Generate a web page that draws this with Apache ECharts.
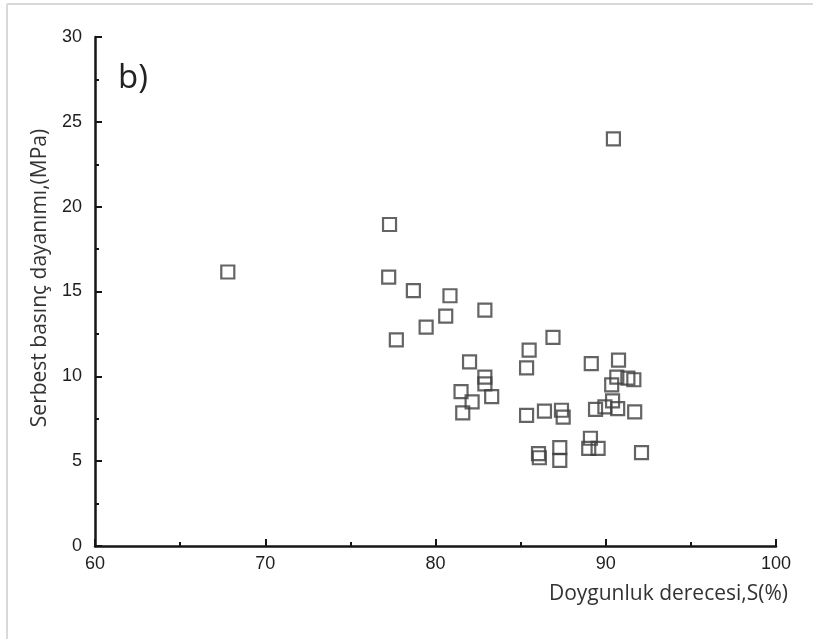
<!DOCTYPE html>
<html>
<head>
<meta charset="utf-8">
<script src="https://cdn.jsdelivr.net/npm/echarts@6/dist/echarts.min.js"></script>
<style>
  html, body { margin: 0; padding: 0; background: #fff; }
  #chart { width: 813px; height: 639px; }
</style>
</head>
<body>
<div id="chart"></div>
<script>
// Saturation degree S (%) for each sample
const saturation = [
  67.8, 77.3, 77.25, 77.7, 78.7, 79.45, 80.6, 80.85, 82.9, 82.0,
  82.9, 82.9, 81.5, 82.15, 83.3, 81.6, 86.9, 85.5, 85.35, 85.35,
  86.4, 87.4, 87.5, 86.05, 86.1, 87.3, 87.3, 89.15, 90.75, 90.65,
  91.3, 91.65, 90.35, 90.4, 89.4, 89.95, 90.7, 91.7, 89.1, 89.0,
  89.55, 92.1, 90.45
];
// Unconfined compressive strength (MPa) for each sample
const strength = [
  16.15, 18.95, 15.85, 12.15, 15.05, 12.9, 13.55, 14.75, 13.9, 10.85,
  9.95, 9.55, 9.1, 8.5, 8.8, 7.85, 12.3, 11.55, 10.5, 7.7,
  7.95, 8.0, 7.6, 5.45, 5.2, 5.8, 5.05, 10.75, 10.95, 9.95,
  9.9, 9.8, 9.5, 8.55, 8.05, 8.2, 8.1, 7.9, 6.35, 5.75,
  5.75, 5.5, 24.0
];
const xTicks = { min: 60, max: 100, step: 10 };
const yTicks = { min: 0, max: 30, step: 5 };
const xTitle = 'Doygunluk derecesi,S(%)';
const yTitle = 'Serbest basınç dayanımı,(MPa)';

const points = saturation.map((s, i) => [s, strength[i]]);

const axisColor = '#161616';
const labelStyle = { color: '#1e1e1e', fontFamily: 'Liberation Sans, Arial, sans-serif', fontSize: 18 };
const titleFont = '21px "Open Sans", "Noto Sans", sans-serif';

const chart = echarts.init(document.getElementById('chart'), null, { renderer: 'canvas' });
chart.setOption({
  backgroundColor: '#ffffff',
  animation: false,
  grid: { left: 95, right: 37, top: 37, bottom: 93 },
  xAxis: {
    type: 'value',
    min: xTicks.min, max: xTicks.max, interval: xTicks.step,
    axisLine: { show: true, onZero: false, lineStyle: { color: axisColor, width: 2.5 } },
    axisTick: { show: true, inside: true, length: 7, lineStyle: { color: axisColor, width: 2 } },
    minorTick: { show: true, splitNumber: 2, length: 4, lineStyle: { color: axisColor, width: 2 } },
    splitLine: { show: false },
    axisLabel: Object.assign({ margin: 9 }, labelStyle)
  },
  yAxis: {
    type: 'value',
    min: yTicks.min, max: yTicks.max, interval: yTicks.step,
    axisLine: { show: true, onZero: false, lineStyle: { color: axisColor, width: 2.5 } },
    axisTick: { show: true, inside: true, length: 7, lineStyle: { color: axisColor, width: 2 } },
    minorTick: { show: true, splitNumber: 2, length: 4, lineStyle: { color: axisColor, width: 2 } },
    splitLine: { show: false },
    axisLabel: Object.assign({ margin: 13 }, labelStyle)
  },
  series: [{
    type: 'scatter',
    data: points,
    symbol: 'rect',
    symbolSize: 13,
    itemStyle: { color: 'rgba(255,255,255,0)', borderColor: '#3d3d3d', borderWidth: 2.2 }
  }],
  graphic: [
    // thin frame along the top and left edges
    { type: 'line', silent: true, shape: { x1: 7, y1: 4, x2: 813, y2: 4 }, style: { stroke: '#d9d9d9', lineWidth: 2 } },
    { type: 'line', silent: true, shape: { x1: 7, y1: 4, x2: 7, y2: 639 }, style: { stroke: '#d9d9d9', lineWidth: 2 } },
    {
      type: 'text', left: 118, top: 62,
      style: { text: 'b)', fill: '#222', font: '33px "Open Sans", "Noto Sans", sans-serif' }
    },
    {
      type: 'text', x: 40, y: 278, rotation: Math.PI / 2,
      style: { text: yTitle, fill: '#333', font: titleFont, align: 'center', verticalAlign: 'middle' }
    },
    {
      type: 'text', right: 25, top: 584,
      style: { text: xTitle, fill: '#333', font: titleFont }
    }
  ]
});
</script>
</body>
</html>
